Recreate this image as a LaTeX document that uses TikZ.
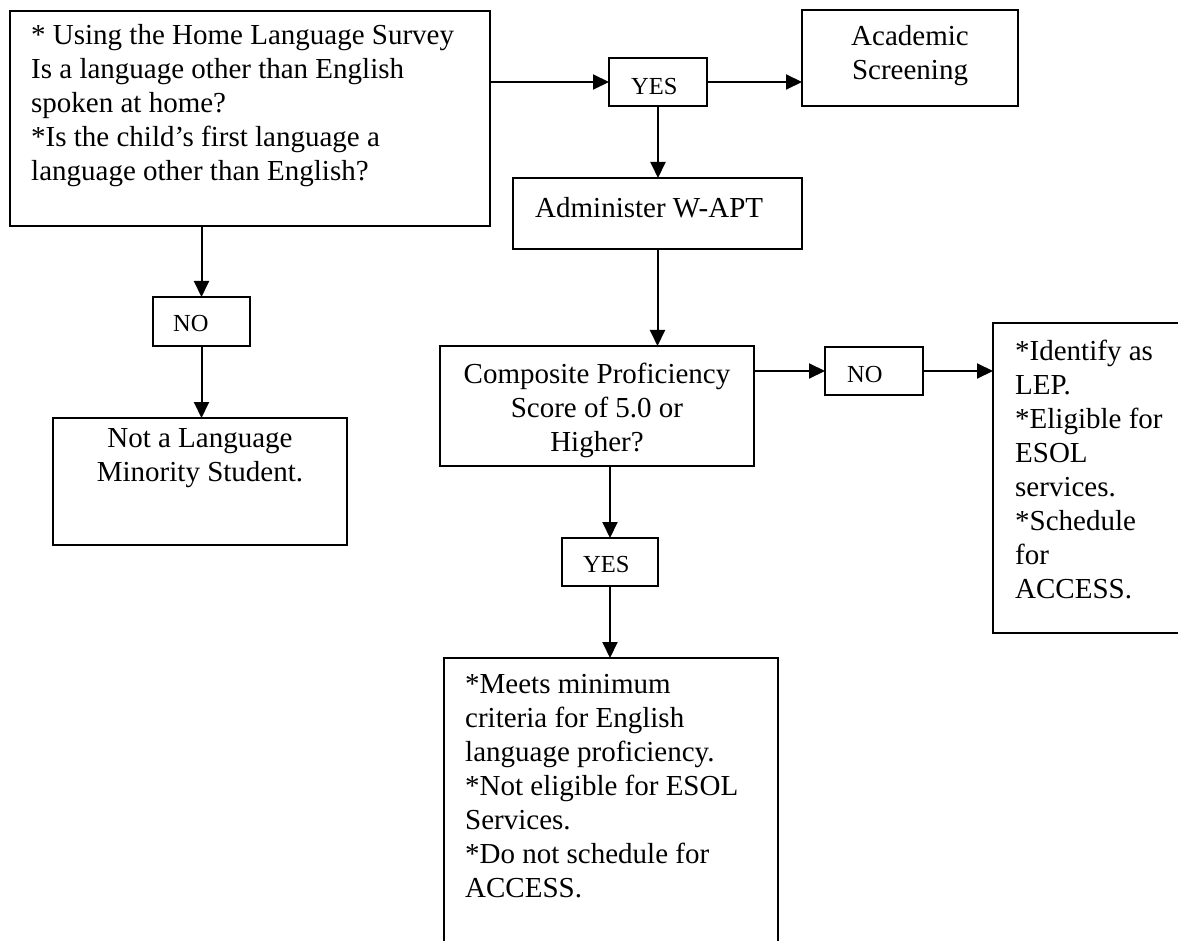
\documentclass[tikz,border=0pt]{standalone}
\usepackage{fontspec}
\setmainfont{Liberation Serif}
\usetikzlibrary{arrows.meta}
\newcommand{\ltab}[1]{\begin{tabular}[t]{@{}l@{}}#1\end{tabular}}
\newcommand{\ctab}[1]{\begin{tabular}[t]{@{}c@{}}#1\end{tabular}}
\begin{document}
\begin{tikzpicture}[x=1pt,y=-1pt,
  box/.style={draw=black, line width=2pt, rectangle, inner sep=0pt, outer sep=0pt},
  txt/.style={inner sep=0pt, font=\fontsize{29}{34}\selectfont, anchor=base west},
  ctxt/.style={inner sep=0pt, font=\fontsize{29}{34}\selectfont, anchor=base},
  small/.style={inner sep=0pt, font=\fontsize{24.5}{29}\selectfont, anchor=base west},
  arr/.style={line width=2pt, -{Triangle[length=16pt,width=15pt]}}]
\useasboundingbox (0,0) rectangle (1178,941);
\clip (0,0) rectangle (1178,941);

% boxes
\node[box, minimum width=480, minimum height=215] (b1) at (250,118.5) {};
\node[box, minimum width=98, minimum height=48] (yes1) at (658,82) {};
\node[box, minimum width=216, minimum height=96] (acad) at (910,58) {};
\node[box, minimum width=289, minimum height=71] (admin) at (657.5,213.5) {};
\node[box, minimum width=314, minimum height=120] (comp) at (597,406) {};
\node[box, minimum width=98, minimum height=48] (no2) at (874,371) {};
\node[box, minimum width=197, minimum height=310] (ident) at (1091.5,478) {};
\node[box, minimum width=97, minimum height=49] (no1) at (201.5,321.5) {};
\node[box, minimum width=294, minimum height=127] (notlang) at (200,481.5) {};
\node[box, minimum width=96, minimum height=48] (yes2) at (610,562) {};
\node[box, minimum width=334, minimum height=322] (bottom) at (611,819) {};

% texts
\node[txt] (t1) at (31,45) {\ltab{* Using the Home Language Survey\\Is a language other than English\\spoken at home?\\{}*Is the child’s first language a\\language other than English?}};
\node[small] (tyes1) at (631,95) {YES};
\node[ctxt] (tacad) at (910,46) {\ctab{Academic\\Screening}};
\node[txt] (tadmin) at (535,218) {Administer W-APT};
\node[ctxt] (tcomp) at (597,383) {\ctab{Composite Proficiency\\Score of 5.0 or\\Higher?}};
\node[small] (tno2) at (847,382) {NO};
\node[txt] (tident) at (1015,360) {\ltab{*Identify as\\LEP.\\{}*Eligible for\\ESOL\\services.\\{}*Schedule\\for\\ACCESS.}};
\node[small] (tno1) at (173,331) {NO};
\node[ctxt] (tnotlang) at (200,447) {\ctab{Not a Language\\Minority Student.}};
\node[small] (tyes2) at (583,572) {YES};
\node[txt] (tbottom) at (465,693) {\ltab{*Meets minimum\\criteria for English\\language proficiency.\\{}*Not eligible for ESOL\\Services.\\{}*Do not schedule for\\ACCESS.}};

% connectors
\draw[arr] (b1.east |- yes1.west) -- (yes1.west);
\draw[arr] (yes1.east) -- (yes1.east -| acad.west);
\draw[arr] (yes1.south) -- (yes1.south |- admin.north);
\draw[arr] (admin.south) -- (admin.south |- comp.north);
\draw[arr] (comp.east |- no2.west) -- (no2.west);
\draw[arr] (no2.east) -- (no2.east -| ident.west);
\draw[arr] (yes2.north |- comp.south) -- (yes2.north);
\draw[arr] (yes2.south) -- (yes2.south |- bottom.north);
\draw[arr] (no1.north |- b1.south) -- (no1.north);
\draw[arr] (no1.south) -- (no1.south |- notlang.north);
\end{tikzpicture}
\end{document}
